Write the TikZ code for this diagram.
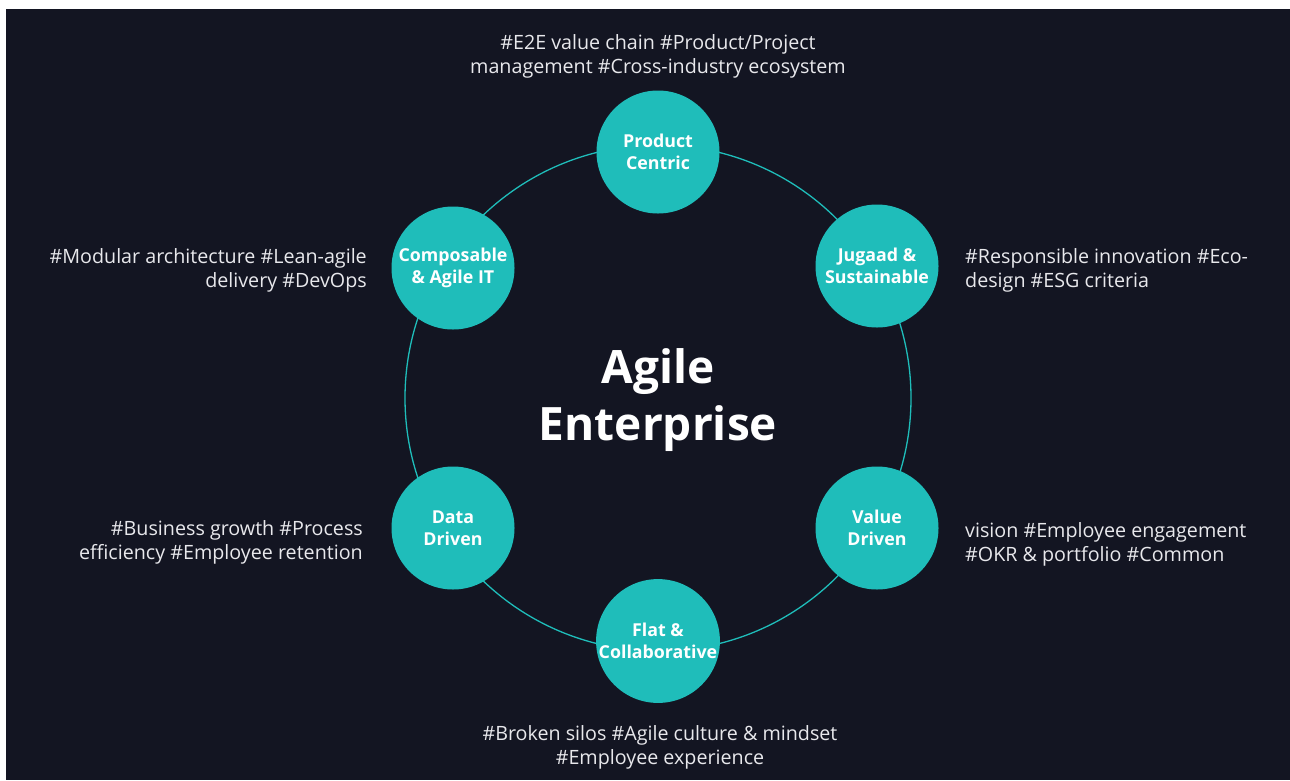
\documentclass[tikz,border=0pt]{standalone}
\usepackage{fontspec}
\setmainfont{Open Sans}
\definecolor{bgdark}{HTML}{131522}
\definecolor{teal}{HTML}{1FBDBA}
\definecolor{tagtext}{HTML}{E8E8EC}
\begin{document}
\begin{tikzpicture}[x=1pt,y=-1pt,
  pillar/.style={circle,fill=teal,minimum size=123pt,inner sep=0pt,align=center,
    text=white,font=\fontsize{17.8}{22.5}\selectfont\bfseries},
  tagline/.style={text=tagtext,inner sep=0pt,font=\fontsize{19.7}{24}\selectfont},
  ring/.style={draw=teal,line width=1.3pt}]
  % page and dark panel
  \useasboundingbox (0,0) rectangle (1290,780);
  \fill[white] (0,0) rectangle (1290,780);
  \fill[bgdark] (6,9) rectangle (1290,780);
  % ring behind the pillars
  \coordinate (hub) at (658,398);
  \draw[ring] (hub) circle[radius=253];
  % pillars
  \node[pillar] (prod) at (658,152) {Product\\Centric};
  \node[pillar] (jug)  at (877,266) {Jugaad \&\\Sustainable};
  \node[pillar] (val)  at (877,528) {Value\\Driven};
  \node[pillar] (flat) at (658,641) {Flat \&\\Collaborative};
  \node[pillar] (data) at (453,528) {Data\\Driven};
  \node[pillar] (comp) at (453,268) {Composable\\\& Agile IT};
  % title
  \node[text=white,align=center,font=\fontsize{46}{57}\selectfont\bfseries] (title) at (658,400) {Agile\\Enterprise};
  % hashtags
  \node[tagline,align=center,anchor=center] (tprod) at (658,56) {\#E2E value chain \#Product/Project\\management \#Cross-industry ecosystem};
  \node[tagline,align=left,anchor=west] (tjug) at (965,270) {\#Responsible innovation \#Eco-\\design \#ESG criteria};
  \node[tagline,align=left,anchor=west] (tval) at (965,544) {vision \#Employee engagement\\\#OKR \& portfolio \#Common};
  \node[tagline,align=center,anchor=center] (tflat) at (660,747) {\#Broken silos \#Agile culture \& mindset\\\#Employee experience};
  \node[tagline,align=right,anchor=east] (tdata) at (363,542) {\#Business growth \#Process\\efficiency \#Employee retention};
  \node[tagline,align=right,anchor=east] (tcomp) at (367,270) {\#Modular architecture \#Lean-agile\\delivery \#DevOps};
\end{tikzpicture}
\end{document}
